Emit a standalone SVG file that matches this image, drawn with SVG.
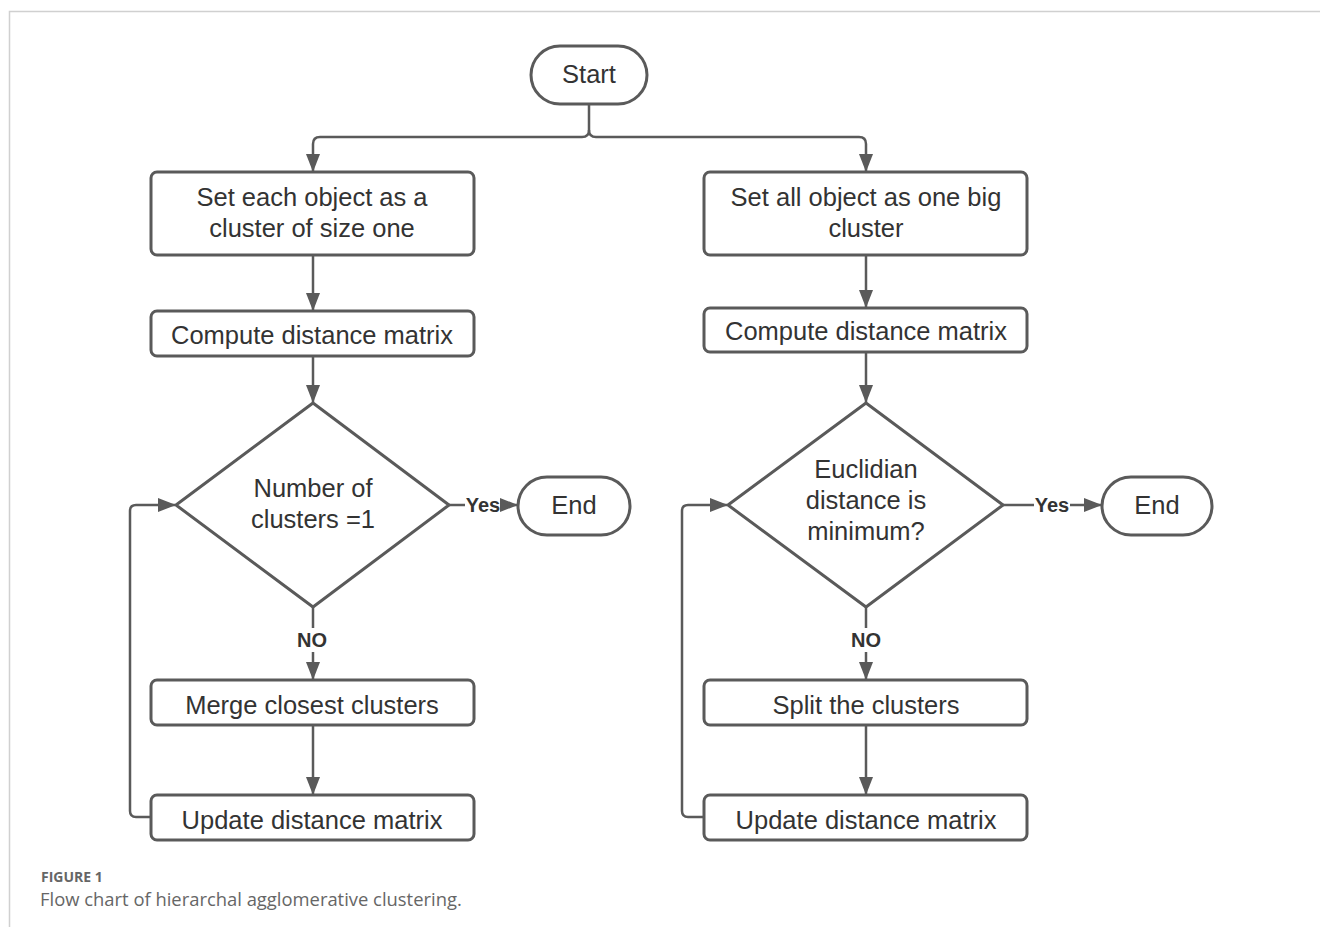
<svg xmlns="http://www.w3.org/2000/svg" width="1320" height="927" viewBox="0 0 1320 927">
<defs>
<marker id="ah" markerWidth="18" markerHeight="14" refX="17" refY="7" orient="auto" markerUnits="userSpaceOnUse" viewBox="0 0 18 14">
<path d="M0,0 L18,7 L0,14 z" fill="#5a5a5a"/>
</marker>
<style>
.n{fill:#fff;stroke:#5a5a5a;stroke-width:3}
.t{font-family:"Liberation Sans",Arial,sans-serif;font-size:25.5px;fill:#333;text-anchor:middle}
.l{font-family:"Liberation Sans",Arial,sans-serif;font-size:20px;font-weight:bold;fill:#333;text-anchor:middle}
.c{fill:none;stroke:#5a5a5a;stroke-width:2.5}
.a{marker-end:url(#ah)}
</style>
</defs>
<rect width="1320" height="927" fill="#fff"/>
<path d="M9.5,927 V11.5 H1320" fill="none" stroke="#d0d0d0" stroke-width="1.5"/>

<g id="connectors">
<path class="c a" d="M589,104 V130 Q589,137 582,137 H320 Q313,137 313,144 V171"/>
<path class="c a" d="M589,130 Q589,137 596,137 H859 Q866,137 866,144 V171"/>
<path class="c a" d="M313,255 V310"/>
<path class="c a" d="M313,356 V402"/>
<path class="c" d="M449,505 H465"/>
<path class="c a" d="M500,505 H517"/>
<path class="c" d="M313,607 V628"/>
<path class="c a" d="M313,652 V679"/>
<path class="c a" d="M313,725 V794"/>
<path class="c a" d="M151,817 H136 Q130,817 130,811 V511 Q130,505 136,505 H175"/>
<path class="c a" d="M866,255 V307"/>
<path class="c a" d="M866,352 V402"/>
<path class="c" d="M1003,505 H1034"/>
<path class="c a" d="M1070,505 H1101"/>
<path class="c" d="M866,607 V628"/>
<path class="c a" d="M866,652 V679"/>
<path class="c a" d="M866,725 V794"/>
<path class="c a" d="M704,817 H688 Q682,817 682,811 V511 Q682,505 688,505 H727"/>
<text class="l" x="483" y="512">Yes</text>
<text class="l" x="1052" y="512">Yes</text>
<text class="l" x="312" y="647">NO</text>
<text class="l" x="866" y="647">NO</text>
</g>

<g id="start"><rect class="n" x="531" y="46" width="116" height="58" rx="29"/><text class="t" x="589" y="83">Start</text></g>

<g id="l1"><rect class="n" x="151" y="172" width="323" height="83" rx="6"/><text class="t" x="312" y="206">Set each object as a</text><text class="t" x="312" y="237">cluster of size one</text></g>
<g id="l2"><rect class="n" x="151" y="311" width="323" height="45" rx="6"/><text class="t" x="312" y="344">Compute distance matrix</text></g>
<g id="l3"><path class="n" d="M313,403 L449,505 L313,607 L176,505 Z" stroke-linejoin="round"/><text class="t" x="313" y="497">Number of</text><text class="t" x="313" y="528">clusters =1</text></g>
<g id="lend"><rect class="n" x="518" y="477" width="112" height="58" rx="29"/><text class="t" x="574" y="514">End</text></g>
<g id="l4"><rect class="n" x="151" y="680" width="323" height="45" rx="6"/><text class="t" x="312" y="714">Merge closest clusters</text></g>
<g id="l5"><rect class="n" x="151" y="795" width="323" height="45" rx="6"/><text class="t" x="312" y="829">Update distance matrix</text></g>

<g id="r1"><rect class="n" x="704" y="172" width="323" height="83" rx="6"/><text class="t" x="866" y="206">Set all object as one big</text><text class="t" x="866" y="237">cluster</text></g>
<g id="r2"><rect class="n" x="704" y="308" width="323" height="44" rx="6"/><text class="t" x="866" y="340">Compute distance matrix</text></g>
<g id="r3"><path class="n" d="M866,403 L1003,505 L866,607 L728,505 Z" stroke-linejoin="round"/><text class="t" x="866" y="478">Euclidian</text><text class="t" x="866" y="509">distance is</text><text class="t" x="866" y="540">minimum?</text></g>
<g id="rend"><rect class="n" x="1102" y="477" width="110" height="58" rx="29"/><text class="t" x="1157" y="514">End</text></g>
<g id="r4"><rect class="n" x="704" y="680" width="323" height="45" rx="6"/><text class="t" x="866" y="714">Split the clusters</text></g>
<g id="r5"><rect class="n" x="704" y="795" width="323" height="45" rx="6"/><text class="t" x="866" y="829">Update distance matrix</text></g>

<g id="caption">
<text x="41" y="882" font-family="'Open Sans',sans-serif" font-size="14" font-weight="bold" fill="#666">FIGURE 1</text>
<text x="40" y="906" font-family="'Open Sans',sans-serif" font-size="18.4" fill="#666">Flow chart of hierarchal agglomerative clustering.</text>
</g>
</svg>
